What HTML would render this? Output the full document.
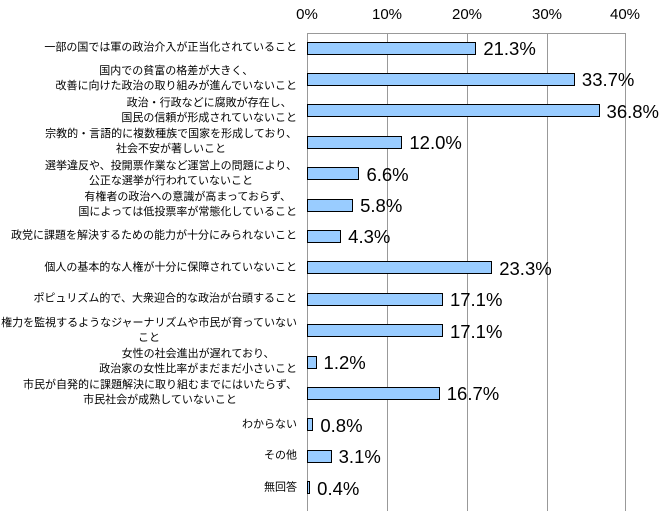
<!DOCTYPE html>
<html><head><meta charset="utf-8"><style>
body{margin:0;width:670px;height:515px;background:#fff;position:relative;overflow:hidden;font-family:"Liberation Sans","Noto Sans CJK JP",sans-serif;}
.ax{position:absolute;top:6px;font-size:15px;color:#000;transform:translateX(-50%);}
.g{position:absolute;top:33px;height:478px;width:1px;background:#999;}
.bar{position:absolute;left:307px;height:13px;background:#99ccff;border:1px solid #000;box-sizing:border-box;}
.v{position:absolute;font-size:18.5px;color:#000;line-height:20px;}
.lb{position:absolute;right:373px;font-size:11px;line-height:15px;text-align:center;white-space:nowrap;color:#000;transform:translateY(-50%);}
</style></head><body>
<div class="ax" style="left:307px">0%</div>
<div class="ax" style="left:387px">10%</div>
<div class="ax" style="left:467px">20%</div>
<div class="ax" style="left:547px">30%</div>
<div class="ax" style="left:625px">40%</div>
<div class="g" style="left:307px"></div>
<div class="g" style="left:387px"></div>
<div class="g" style="left:467px"></div>
<div class="g" style="left:547px"></div>
<div class="g" style="left:625px"></div>
<div style="position:absolute;left:307px;top:33px;width:319px;height:1px;background:#999"></div>
<div id="c"></div>
<script>
var d=[
["一部の国では軍の政治介入が正当化されていること",21.3],
["国内での貧富の格差が大きく、<br>改善に向けた政治の取り組みが進んでいないこと",33.7],
["政治・行政などに腐敗が存在し、<br>国民の信頼が形成されていないこと",36.8],
["宗教的・言語的に複数種族で国家を形成しており、<br>社会不安が著しいこと",12.0],
["選挙違反や、投開票作業など運営上の問題により、<br>公正な選挙が行われていないこと",6.6],
["有権者の政治への意識が高まっておらず、<br>国によっては低投票率が常態化していること",5.8],
["政党に課題を解決するための能力が十分にみられないこと",4.3],
["個人の基本的な人権が十分に保障されていないこと",23.3],
["ポピュリズム的で、大衆迎合的な政治が台頭すること",17.1],
["権力を監視するようなジャーナリズムや市民が育っていない<br>こと",17.1],
["女性の社会進出が遅れており、<br>政治家の女性比率がまだまだ小さいこと",1.2],
["市民が自発的に課題解決に取り組むまでにはいたらず、<br>市民社会が成熟していないこと",16.7],
["わからない",0.8],["その他",3.1],["無回答",0.4]];
var h="";
d.forEach(function(r,i){
 var cy=48+i*31.4, w=r[1]*7.95;
 h+='<div class="bar" style="top:'+(cy-6.5)+'px;width:'+w+'px"></div>';
 h+='<div class="v" style="left:'+(307+w+7)+'px;top:'+(cy-9)+'px">'+r[1].toFixed(1)+'%</div>';
 h+='<div class="lb" style="top:'+cy+'px">'+r[0]+'</div>';
});
document.getElementById('c').innerHTML=h;
</script>
</body></html>
